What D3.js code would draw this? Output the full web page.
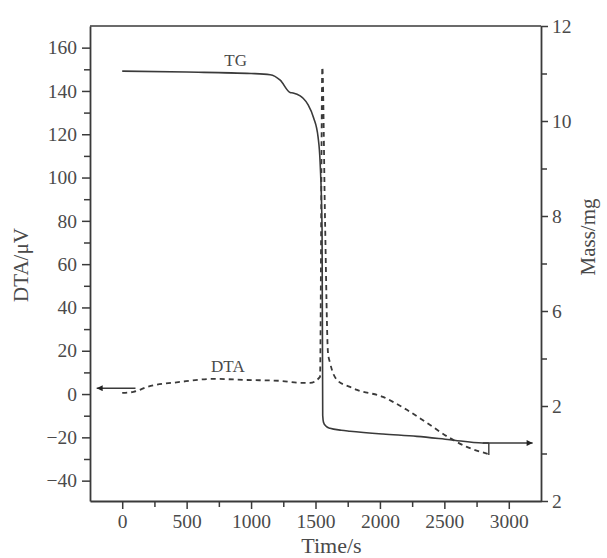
<!DOCTYPE html>
<html>
<head>
<meta charset="utf-8">
<script src="https://cdn.jsdelivr.net/npm/d3@7"></script>
<style>
  html, body { margin: 0; padding: 0; background: #fff; }
  svg { display: block; }
  svg text { font-family: "Liberation Serif", "Times New Roman", serif !important; fill: #4a4a4a; }
</style>
</head>
<body>
<svg id="chart" width="607" height="558"></svg>
<script>
// ---- data ----
const dtaTime  = [0, 87, 196, 451, 707, 970, 1226, 1381, 1458, 1535, 1553, 1574, 1597, 1613, 1628, 1667, 1768, 1822, 2023, 2101, 2209, 2364, 2542, 2674, 2836];
const dtaValue = [0.5, 1.0, 3.3, 5.6, 7.0, 6.5, 6.1, 5.2, 5.2, 7.9, 151, 80.4, 19, 14.4, 11.1, 6.5, 3.3, 1.9, -1.3, -3.6, -7.3, -13.3, -20.3, -24.4, -27.6];

const tgTime = [0, 500, 1000, 1148, 1226, 1303, 1326, 1381, 1404, 1443, 1485, 1520, 1536, 1551, 1556, 1562, 1580, 1613, 1700, 1768, 2023, 2287, 2542, 2798, 2845];
const tgMass = [11.05, 11.03, 11.0, 10.975, 10.86, 10.60, 10.59, 10.53, 10.48, 10.34, 10.07, 9.66, 9.12, 7.71, 3.80, 3.66, 3.58, 3.53, 3.49, 3.47, 3.41, 3.36, 3.29, 3.22, 3.22];

const xTicks = [0, 500, 1000, 1500, 2000, 2500, 3000];
const xMinorTicks = [250, 750, 1250, 1750, 2250, 2750];
const leftTicks = [-40, -20, 0, 20, 40, 60, 80, 100, 120, 140, 160];
const leftMinorTicks = [-30, -10, 10, 30, 50, 70, 90, 110, 130, 150];
const rightTicks = [2, 4, 6, 8, 10, 12];
const rightTickLabels = ["2", "2", "6", "8", "10", "12"];
const rightMinorTicks = [3, 5, 7, 9, 11];

const xTitle = "Time/s";
const leftTitle = "DTA/\u03bcV";
const rightTitle = "Mass/mg";
const tgLabel = "TG";
const dtaLabel = "DTA";

// annotation arrows (data coordinates)
const leftArrowTime = [103, -198];   const leftArrowDTA = 2.7;
const rightArrowTime = [2798, 3185]; const rightArrowMass = 3.22;
const hookTime = 2845; const hookMass = [3.22, 2.97];

// ---- layout ----
const L = 90, R = 541, T = 26, B = 501;
const FONT = "'Liberation Serif', 'Times New Roman', serif";
const svg = d3.select("#chart");
const x = d3.scaleLinear().domain([-250, 3250]).range([L, R]);
const yL = d3.scaleLinear().domain([-49.4, 170]).range([B, T]);
const yR = d3.scaleLinear().domain([2, 12]).range([B, T]);

const ink = "#3a3a3a";
const tickFont = 19.5;

// frame: top line
svg.append("line").attr("x1", L).attr("x2", R).attr("y1", T).attr("y2", T)
  .attr("stroke", ink).attr("stroke-width", 1.6);

function styleAxis(g) {
  g.attr("font-family", FONT);
  g.select(".domain").attr("stroke", ink).attr("stroke-width", 1.8);
  g.selectAll(".tick line").attr("stroke", ink).attr("stroke-width", 1.5);
  g.selectAll(".tick text").attr("font-size", tickFont).attr("font-family", FONT).attr("fill", "#4a4a4a");
}

// bottom axis
const gx = svg.append("g").attr("transform", `translate(0,${B})`)
  .call(d3.axisBottom(x).tickValues(xTicks).tickSize(8).tickPadding(5).tickSizeOuter(0).tickFormat(d3.format("d")));
styleAxis(gx);
svg.append("g").attr("transform", `translate(0,${B})`)
  .call(d3.axisBottom(x).tickValues(xMinorTicks).tickSize(6).tickFormat(""))
  .call(g => { g.select(".domain").remove(); g.selectAll("line").attr("stroke", ink).attr("stroke-width", 1.5); });

// left axis
const gl = svg.append("g").attr("transform", `translate(${L},0)`)
  .call(d3.axisLeft(yL).tickValues(leftTicks).tickSize(8).tickPadding(5).tickSizeOuter(0)
    .tickFormat(d => d < 0 ? "\u2212" + Math.abs(d) : d));
styleAxis(gl);
svg.append("g").attr("transform", `translate(${L},0)`)
  .call(d3.axisLeft(yL).tickValues(leftMinorTicks).tickSize(6).tickFormat(""))
  .call(g => { g.select(".domain").remove(); g.selectAll("line").attr("stroke", ink).attr("stroke-width", 1.5); });

// right axis
const gr = svg.append("g").attr("transform", `translate(${R},0)`)
  .call(d3.axisRight(yR).tickValues(rightTicks).tickSize(7).tickPadding(4).tickSizeOuter(0)
    .tickFormat((d, i) => rightTickLabels[i]));
styleAxis(gr);
svg.append("g").attr("transform", `translate(${R},0)`)
  .call(d3.axisRight(yR).tickValues(rightMinorTicks).tickSize(6).tickFormat(""))
  .call(g => { g.select(".domain").remove(); g.selectAll("line").attr("stroke", ink).attr("stroke-width", 1.5); });

// titles
svg.append("text").attr("x", (L + R) / 2 + 16).attr("y", 553).attr("text-anchor", "middle")
  .attr("font-family", FONT).attr("font-size", 22).text(xTitle);
svg.append("text").attr("transform", "translate(28,265) rotate(-90)").attr("text-anchor", "middle")
  .attr("font-family", FONT).attr("font-size", 21).text(leftTitle);
svg.append("text").attr("transform", "translate(595,237) rotate(-90)").attr("text-anchor", "middle")
  .attr("font-family", FONT).attr("font-size", 21).text(rightTitle);

// curves
const dtaData = dtaTime.map((t, i) => [t, dtaValue[i]]);
const tgData = tgTime.map((t, i) => [t, tgMass[i]]);

svg.append("path").datum(dtaData)
  .attr("d", d3.line().x(d => x(d[0])).y(d => yL(d[1])).curve(d3.curveMonotoneX))
  .attr("fill", "none").attr("stroke", ink).attr("stroke-width", 1.8).attr("stroke-dasharray", "5,4");

svg.append("path").datum(tgData)
  .attr("d", d3.line().x(d => x(d[0])).y(d => yR(d[1])).curve(d3.curveMonotoneX))
  .attr("fill", "none").attr("stroke", ink).attr("stroke-width", 1.6);

// hook at end of TG
svg.append("path")
  .attr("d", d3.line()([[x(hookTime), yR(hookMass[0])], [x(hookTime), yR(hookMass[1])]]))
  .attr("stroke", ink).attr("stroke-width", 1.4).attr("fill", "none");

// arrow marker
const defs = svg.append("defs");
defs.append("marker").attr("id", "arr").attr("viewBox", "0 0 10 10").attr("refX", 10).attr("refY", 5)
  .attr("markerWidth", 12).attr("markerHeight", 6).attr("markerUnits", "userSpaceOnUse").attr("orient", "auto")
  .append("path").attr("d", "M0,0 L10,5 L0,10 z").attr("fill", "#222");

svg.append("line")
  .attr("x1", x(leftArrowTime[0])).attr("x2", x(leftArrowTime[1]))
  .attr("y1", yL(leftArrowDTA)).attr("y2", yL(leftArrowDTA))
  .attr("stroke", ink).attr("stroke-width", 1.4).attr("marker-end", "url(#arr)");
svg.append("line")
  .attr("x1", x(rightArrowTime[0])).attr("x2", x(rightArrowTime[1]))
  .attr("y1", yR(rightArrowMass)).attr("y2", yR(rightArrowMass))
  .attr("stroke", ink).attr("stroke-width", 1.4).attr("marker-end", "url(#arr)");

// curve labels
svg.append("text").attr("x", x(880)).attr("y", yR(11.05) - 5).attr("text-anchor", "middle")
  .attr("font-family", FONT).attr("font-size", 17).text(tgLabel);
svg.append("text").attr("x", x(820)).attr("y", yL(7.0) - 7).attr("text-anchor", "middle")
  .attr("font-family", FONT).attr("font-size", 17).text(dtaLabel);
</script>
</body>
</html>
